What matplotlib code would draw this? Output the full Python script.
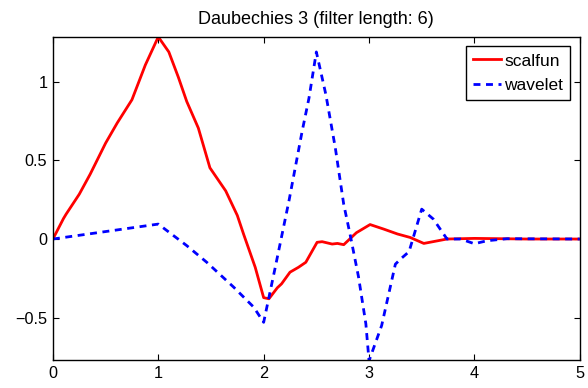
import numpy as np
import matplotlib
matplotlib.use('Agg')
import matplotlib.pyplot as plt

# values
scal_x = [0, 0.1, 0.125, 0.25, 0.354, 0.5, 0.61, 0.75, 0.877, 1.0,
          1.10, 1.19, 1.27, 1.38, 1.49, 1.64, 1.75, 1.81, 1.92, 2.0,
          2.05, 2.13, 2.17, 2.25, 2.33, 2.40, 2.507, 2.555, 2.65, 2.70,
          2.76, 2.88, 3.01, 3.14, 3.27, 3.39, 3.52, 3.74, 4.0, 4.5, 5.0]
scal_y = [0, 0.13, 0.158, 0.285, 0.413, 0.61, 0.738, 0.886, 1.107, 1.286,
          1.19, 1.03, 0.875, 0.706, 0.453, 0.306, 0.15, 0.03, -0.18, -0.373,
          -0.38, -0.31, -0.285, -0.211, -0.18, -0.148, -0.021, -0.017, -0.032, -0.028,
          -0.036, 0.04, 0.092, 0.063, 0.032, 0.01, -0.028, 0.0, 0.004, 0.0, 0.0]

wave_x = [0, 1.0, 1.27, 1.46, 1.715, 1.905, 2.0, 2.11, 2.24, 2.365,
          2.43, 2.5, 2.59, 2.68, 2.76, 2.82, 2.9, 2.97, 3.0, 3.12,
          3.25, 3.30, 3.38, 3.5, 3.61, 3.74, 3.87, 4.0, 4.12, 4.31, 5.0]
wave_y = [0, 0.095, -0.042, -0.148, -0.306, -0.433, -0.53, -0.18, 0.242, 0.685,
          0.896, 1.19, 0.92, 0.58, 0.22, 0.03, -0.24, -0.54, -0.775, -0.55,
          -0.16, -0.127, -0.08, 0.19, 0.127, 0.0, 0.0, -0.03, -0.011, 0.002, 0.0]

plt.rcParams['font.family'] = ['Liberation Sans', 'DejaVu Sans']

fig = plt.figure(figsize=(5.88, 3.88), dpi=100)
ax = fig.add_axes([0.090, 0.072, 0.896, 0.833])

ax.plot(scal_x, scal_y, color='red', lw=2.0, label='scalfun')
ax.plot(wave_x, wave_y, color='blue', lw=2.0, ls=(0, (2.5, 2)), label='wavelet')

ax.set_xlim(0, 5)
ax.set_ylim(-0.77, 1.286)
ax.set_xticks([0, 1, 2, 3, 4, 5])
ax.set_yticks([-0.5, 0, 0.5, 1])
ax.set_yticklabels(['\u22120.5', '0', '0.5', '1'])
ax.tick_params(direction='in', top=True, right=True, length=4, labelsize=11.7, pad=4)
for s in ax.spines.values():
    s.set_linewidth(1.0)

ax.set_title('Daubechies 3 (filter length: 6)', fontsize=13, pad=9)

leg = ax.legend(loc='upper right', fontsize=12.5, fancybox=False, framealpha=1,
                edgecolor='black', handlelength=1.6, handletextpad=0.2,
                borderaxespad=0.55, labelspacing=0.55, borderpad=0.4)
leg.get_frame().set_linewidth(1.0)

fig.savefig('out.png', dpi=100)
